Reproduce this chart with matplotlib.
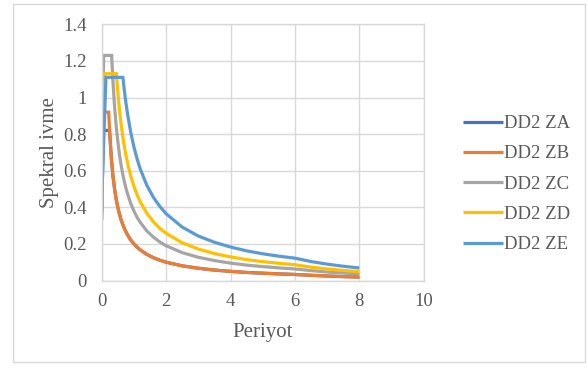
import matplotlib
matplotlib.use("Agg")
import matplotlib.pyplot as plt
from matplotlib.patches import Rectangle

# ---- data ----
series_names = ["DD2 ZA", "DD2 ZB", "DD2 ZC", "DD2 ZD", "DD2 ZE"]

za_T = [0.0, 0.049, 0.244, 0.30, 0.35, 0.40, 0.45, 0.50, 0.55, 0.60, 0.65, 0.70, 0.75, 0.80, 0.90,
        1.00, 1.10, 1.20, 1.40, 1.60, 1.80, 2.00, 2.50, 3.00, 3.50, 4.00, 4.50, 5.00, 5.50,
        6.00, 6.50, 7.00, 7.50, 8.00]
za_Sa = [0.33, 0.82, 0.82, 0.667, 0.571, 0.500, 0.444, 0.400, 0.364, 0.333, 0.308, 0.286, 0.267,
         0.250, 0.222, 0.200, 0.182, 0.167, 0.143, 0.125, 0.111, 0.100, 0.080, 0.067, 0.057,
         0.050, 0.044, 0.040, 0.036, 0.033, 0.0284, 0.0245, 0.0213, 0.0188]

zb_T = [0.0, 0.043, 0.217, 0.25, 0.30, 0.35, 0.40, 0.45, 0.50, 0.55, 0.60, 0.65, 0.70, 0.75, 0.80,
        0.90, 1.00, 1.10, 1.20, 1.40, 1.60, 1.80, 2.00, 2.50, 3.00, 3.50, 4.00, 4.50, 5.00,
        5.50, 6.00, 6.50, 7.00, 7.50, 8.00]
zb_Sa = [0.37, 0.92, 0.92, 0.800, 0.667, 0.571, 0.500, 0.444, 0.400, 0.364, 0.333, 0.308, 0.286,
         0.267, 0.250, 0.222, 0.200, 0.182, 0.167, 0.143, 0.125, 0.111, 0.100, 0.080, 0.067,
         0.057, 0.050, 0.044, 0.040, 0.036, 0.033, 0.0284, 0.0245, 0.0213, 0.0188]

zc_T = [0.0, 0.062, 0.309, 0.35, 0.40, 0.45, 0.50, 0.55, 0.60, 0.65, 0.70, 0.75, 0.80, 0.90, 1.00,
        1.10, 1.20, 1.40, 1.60, 1.80, 2.00, 2.50, 3.00, 3.50, 4.00, 4.50, 5.00, 5.50, 6.00,
        6.50, 7.00, 7.50, 8.00]
zc_Sa = [0.49, 1.23, 1.23, 1.086, 0.950, 0.844, 0.760, 0.691, 0.633, 0.585, 0.543, 0.507, 0.475,
         0.422, 0.380, 0.345, 0.317, 0.271, 0.238, 0.211, 0.190, 0.152, 0.127, 0.109, 0.095,
         0.084, 0.076, 0.069, 0.063, 0.054, 0.0465, 0.0405, 0.0356]

zd_T = [0.0, 0.091, 0.456, 0.50, 0.55, 0.60, 0.65, 0.70, 0.75, 0.80, 0.90, 1.00, 1.10, 1.20, 1.40,
        1.60, 1.80, 2.00, 2.50, 3.00, 3.50, 4.00, 4.50, 5.00, 5.50, 6.00, 6.50, 7.00, 7.50, 8.00]
zd_Sa = [0.452, 1.13, 1.13, 1.030, 0.936, 0.858, 0.792, 0.736, 0.687, 0.644, 0.572, 0.515, 0.468,
         0.429, 0.368, 0.322, 0.286, 0.258, 0.206, 0.172, 0.147, 0.129, 0.114, 0.103, 0.094,
         0.086, 0.0731, 0.0631, 0.0549, 0.0483]

ze_T = [0.0, 0.132, 0.658, 0.70, 0.75, 0.80, 0.90, 1.00, 1.10, 1.20, 1.40, 1.60, 1.80, 2.00, 2.50,
        3.00, 3.50, 4.00, 4.50, 5.00, 5.50, 6.00, 6.50, 7.00, 7.50, 8.00]
ze_Sa = [0.444, 1.11, 1.11, 1.043, 0.973, 0.913, 0.811, 0.730, 0.664, 0.608, 0.521, 0.456, 0.406,
         0.365, 0.292, 0.243, 0.209, 0.183, 0.162, 0.146, 0.133, 0.122, 0.1037, 0.0894, 0.0779,
         0.0684]

x_ticks = [0, 2, 4, 6, 8, 10]
y_ticks = [0, 0.2, 0.4, 0.6, 0.8, 1, 1.2, 1.4]
y_tick_labels = ["0", "0.2", "0.4", "0.6", "0.8", "1", "1.2", "1.4"]

colors = ["#4472C4", "#ED7D31", "#A5A5A5", "#FFC000", "#5B9BD5"]
text_color = "#595959"
grid_color = "#D9D9D9"

plt.rcParams['font.family'] = ['Liberation Serif', 'DejaVu Serif']

fig = plt.figure(figsize=(5.88, 3.78), dpi=100)
fig.patch.set_facecolor("white")

# outer chart frame
fig.add_artist(Rectangle((12.5 / 588, 1 - 362 / 378), (585 - 12.5) / 588, (362 - 4) / 378,
                         transform=fig.transFigure, fill=False, edgecolor=grid_color, lw=1.0))

ax = fig.add_axes([101.7 / 588, 1 - 280.5 / 378, (423.7 - 101.7) / 588, (280.5 - 24.3) / 378])

all_T = [za_T, zb_T, zc_T, zd_T, ze_T]
all_Sa = [za_Sa, zb_Sa, zc_Sa, zd_Sa, ze_Sa]
for name, T, Sa, c in zip(series_names, all_T, all_Sa, colors):
    ax.plot(T, Sa, color=c, lw=2.3, label=name, solid_joinstyle="miter", solid_capstyle="butt")

ax.set_xlim(0, 10)
ax.set_ylim(0, 1.4)
ax.set_xticks(x_ticks)
ax.set_yticks(y_ticks)
ax.set_yticklabels(y_tick_labels)
ax.grid(True, color=grid_color, lw=1.0)
ax.set_axisbelow(True)
for s in ax.spines.values():
    s.set_color(grid_color)
    s.set_linewidth(1.0)
ax.tick_params(length=0, labelsize=13.5, colors=text_color)
ax.tick_params(axis="x", pad=9)
ax.tick_params(axis="y", pad=11)
ax.set_xlabel("Periyot", fontsize=15, color=text_color, labelpad=9)
ax.set_ylabel("Spekral ivme", fontsize=15, color=text_color, labelpad=2.5)

leg = ax.legend(loc="center left", bbox_to_anchor=(455 / 588, 1 - 184 / 378),
                bbox_transform=fig.transFigure, frameon=False, fontsize=13.5,
                handlelength=2.15, handletextpad=0.08, labelspacing=0.7, borderaxespad=0)
for t in leg.get_texts():
    t.set_color(text_color)

fig.savefig("out.png", dpi=100, facecolor="white")
